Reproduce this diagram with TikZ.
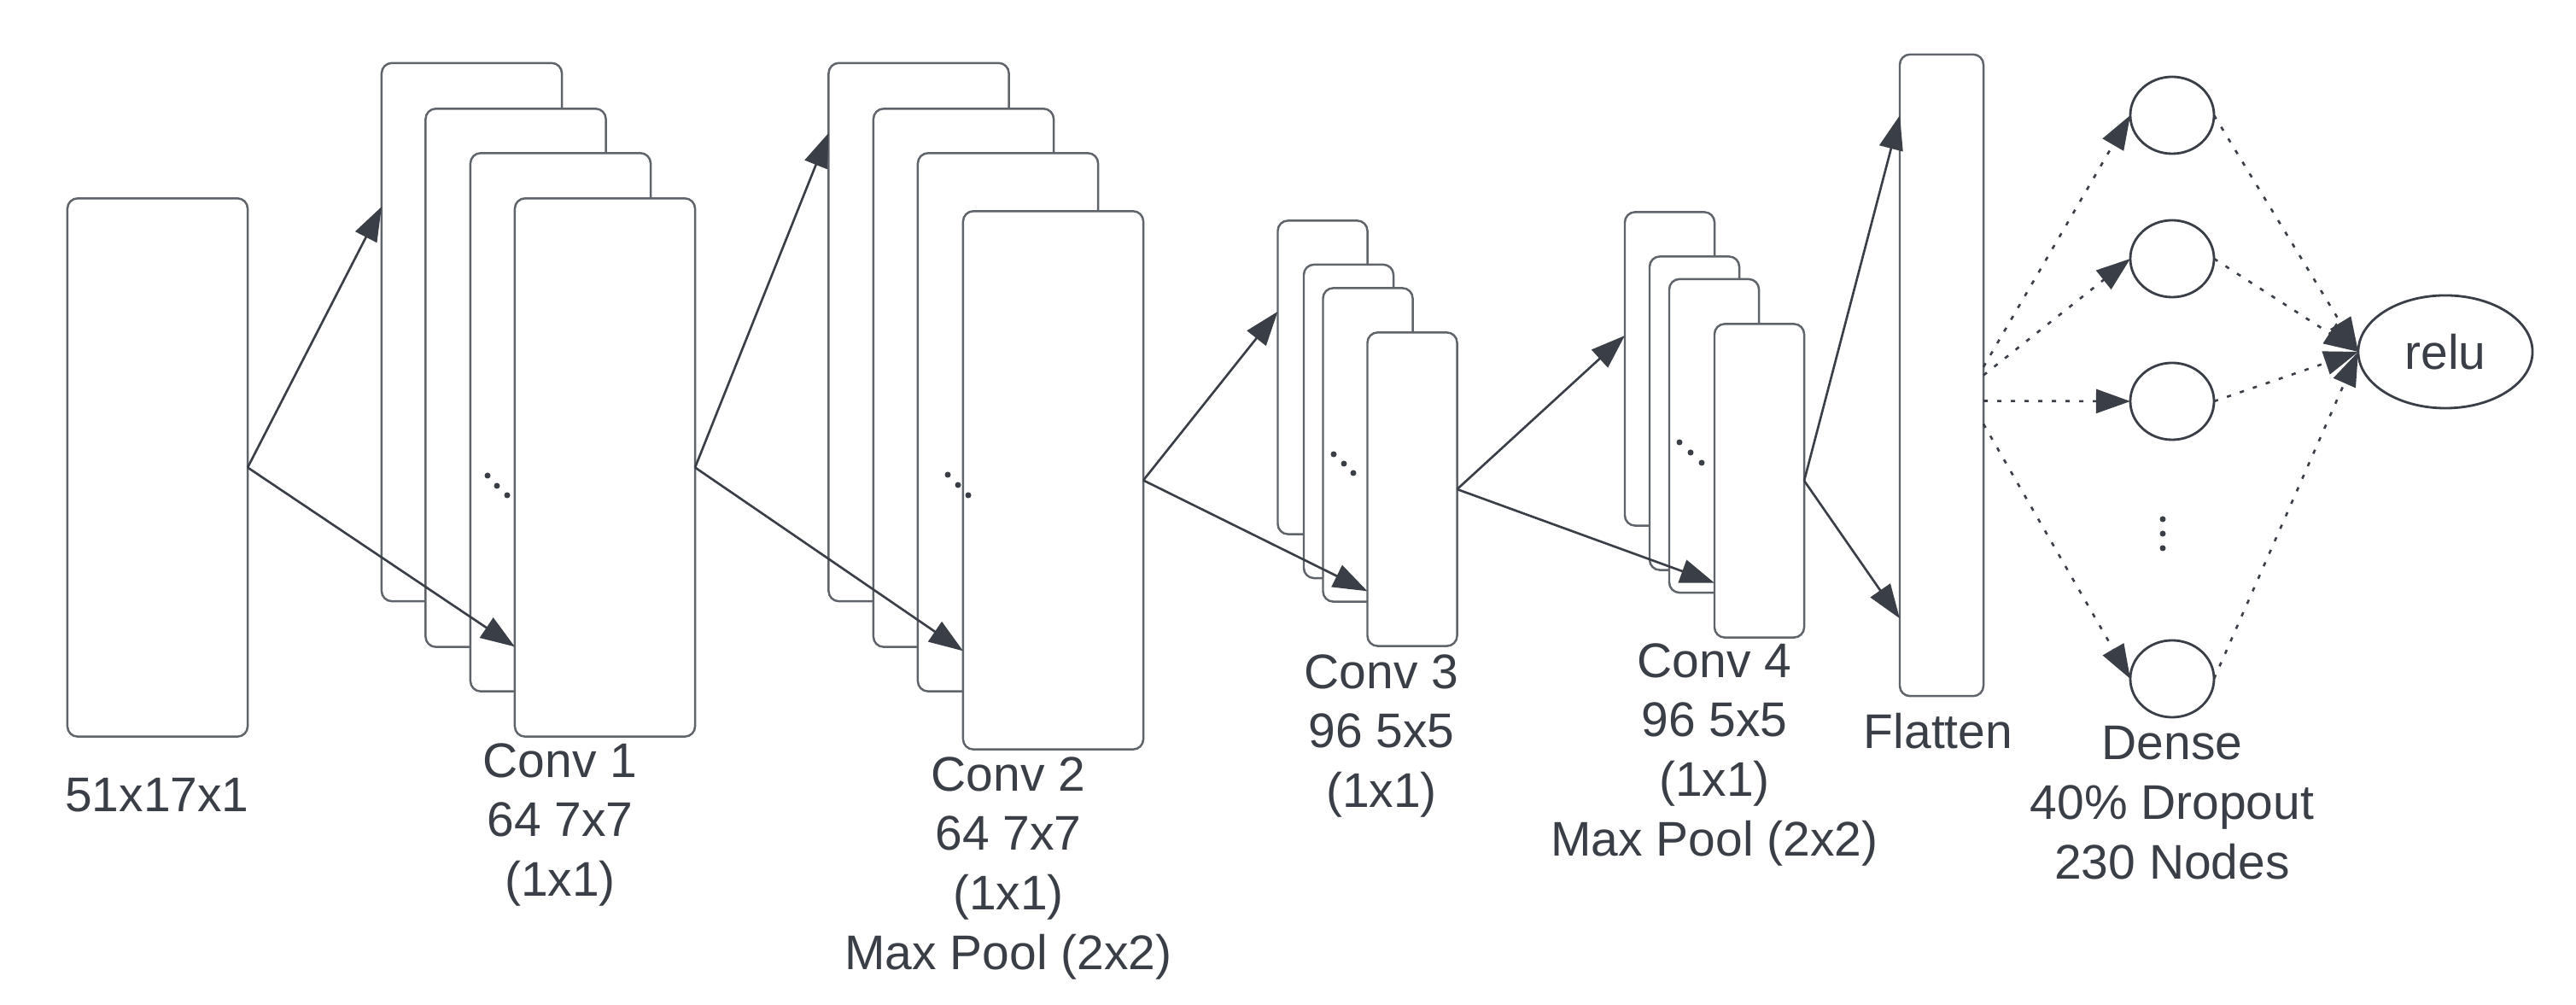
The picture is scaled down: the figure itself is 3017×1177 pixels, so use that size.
\documentclass[tikz,border=0pt]{standalone}
\usepackage{fontspec}
\setmainfont{Liberation Sans}
\usetikzlibrary{arrows.meta,shapes.geometric,calc}
\definecolor{ink}{HTML}{3A3F47}
\definecolor{edgegray}{HTML}{5F636A}
\begin{document}
\begin{tikzpicture}[x=0.01cm,y=-0.01cm,
  fmap/.style={draw=edgegray,line width=0.7pt,fill=white,rounded corners=0.12cm,minimum width=2.11cm,minimum height=6.30cm,inner sep=0,outer sep=0},
  smap/.style={fmap,minimum width=1.05cm,minimum height=3.67cm},
  neuron/.style={ellipse,draw=ink,line width=0.8pt,fill=white,minimum width=0.98cm,minimum height=0.90cm,inner sep=0,outer sep=0},
  lab/.style={text=ink,align=center,inner sep=0,font=\fontsize{16.2pt}{19.9pt}\selectfont},
  arr/.style={draw=ink,line width=0.75pt,-{Triangle[length=0.4cm,width=0.28cm]}},
  darr/.style={arr,dash pattern=on 0.05cm off 0.11cm},
  pip/.style={fill=ink,circle,inner sep=0,minimum size=0.07cm}
]
\fill[white] (0,0) rectangle (3017,1177);
\useasboundingbox (0,0) rectangle (3017,1177);

% input
\node[fmap] (in) at (184.5,547.5) {};
% conv 1
\node[fmap] (c1a) at (552.5,389) {};
\node[fmap] (c1b) at (604,442.5) {};
\node[fmap] (c1c) at (656.5,494.5) {};
\node[fmap] (c1d) at (708.5,547.5) {};
% conv 2
\node[fmap] (c2a) at (1076,389) {};
\node[fmap] (c2b) at (1128.5,442.5) {};
\node[fmap] (c2c) at (1180.5,494.5) {};
\node[fmap] (c2d) at (1233.5,562.5) {};
% conv 3
\node[smap] (c3a) at (1549,442) {};
\node[smap] (c3b) at (1579.5,493.5) {};
\node[smap] (c3c) at (1602,521) {};
\node[smap] (c3d) at (1654,573) {};
% conv 4
\node[smap] (c4a) at (1955.5,432) {};
\node[smap] (c4b) at (1984.5,484) {};
\node[smap] (c4c) at (2007.5,510.5) {};
\node[smap] (c4d) at (2060.5,563) {};
% flatten
\node[fmap,minimum width=0.98cm,minimum height=7.51cm] (fl) at (2274,439.5) {};
% dense
\node[neuron] (d1) at (2544,135) {};
\node[neuron] (d2) at (2544,303) {};
\node[neuron] (d3) at (2544,470) {};
\node[neuron] (d4) at (2544,795) {};
\node[neuron,minimum width=2.04cm,minimum height=1.32cm,text=ink,font=\fontsize{16.2pt}{19.9pt}\selectfont] (relu) at (2864,412) {relu};

% solid arrows
\draw[arr] (in.east) -- ($(c1a.north west)!0.267!(c1a.south west)$);
\draw[arr] (in.east) -- ($(c1d.north west)!0.833!(c1d.south west)$);
\draw[arr] (c1d.east) -- ($(c2a.north west)!0.13!(c2a.south west)$);
\draw[arr] (c1d.east) -- ($(c2d.north west)!0.817!(c2d.south west)$);
\draw[arr] (c2d.east) -- ($(c3a.north west)!0.29!(c3a.south west)$);
\draw[arr] (c2d.east) -- ($(c3d.north west)!0.825!(c3d.south west)$);
\draw[arr] (c3d.east) -- ($(c4a.north west)!0.394!(c4a.south west)$);
\draw[arr] (c3d.east) -- ($(c4d.north west)!0.826!(c4d.south west)$);
\draw[arr] (c4d.east) -- ($(fl.north west)!0.095!(fl.south west)$);
\draw[arr] (c4d.east) -- ($(fl.north west)!0.879!(fl.south west)$);

% dotted arrows
\draw[darr] ($(fl.north east)!0.487!(fl.south east)$) -- (d1.west);
\draw[darr] ($(fl.north east)!0.50!(fl.south east)$) -- (d2.west);
\draw[darr] ($(fl.north east)!0.54!(fl.south east)$) -- (d3.west);
\draw[darr] ($(fl.north east)!0.576!(fl.south east)$) -- (d4.west);
\draw[darr] (d1.east) -- (relu.west);
\draw[darr] (d2.east) -- (relu.west);
\draw[darr] (d3.east) -- (relu.west);
\draw[darr] (d4.east) -- (relu.west);

% ellipsis dots
\node[pip] (p11) at (571,557) {};
\node[pip] (p12) at (582,569) {};
\node[pip] (p13) at (594,580) {};
\node[pip] (p21) at (1110,556) {};
\node[pip] (p22) at (1122,568) {};
\node[pip] (p23) at (1134,580) {};
\node[pip] (p31) at (1562,532) {};
\node[pip] (p32) at (1574,543) {};
\node[pip] (p33) at (1585,554) {};
\node[pip] (p41) at (1967,518) {};
\node[pip] (p42) at (1980,530) {};
\node[pip] (p43) at (1993,542) {};
\node[pip] (v1) at (2533,608) {};
\node[pip] (v2) at (2533,625) {};
\node[pip] (v3) at (2533,642) {};

% labels
\node[lab] (l0) at (184,931) {51x17x1};
\node[lab] (l1) at (656,966) {Conv 1\\64 7x7\\(1x1)};
\node[lab] (l2) at (1181,1017) {Conv 2\\64 7x7\\(1x1)\\Max Pool (2x2)};
\node[lab] (l3) at (1618,862) {Conv 3\\96 5x5\\(1x1)};
\node[lab] (l4) at (2008,884) {Conv 4\\96 5x5\\(1x1)\\Max Pool (2x2)};
\node[lab] (lf) at (2270,856) {Flatten};
\node[lab] (ld) at (2544,940) {Dense\\40\% Dropout\\230 Nodes};
\end{tikzpicture}
\end{document}
